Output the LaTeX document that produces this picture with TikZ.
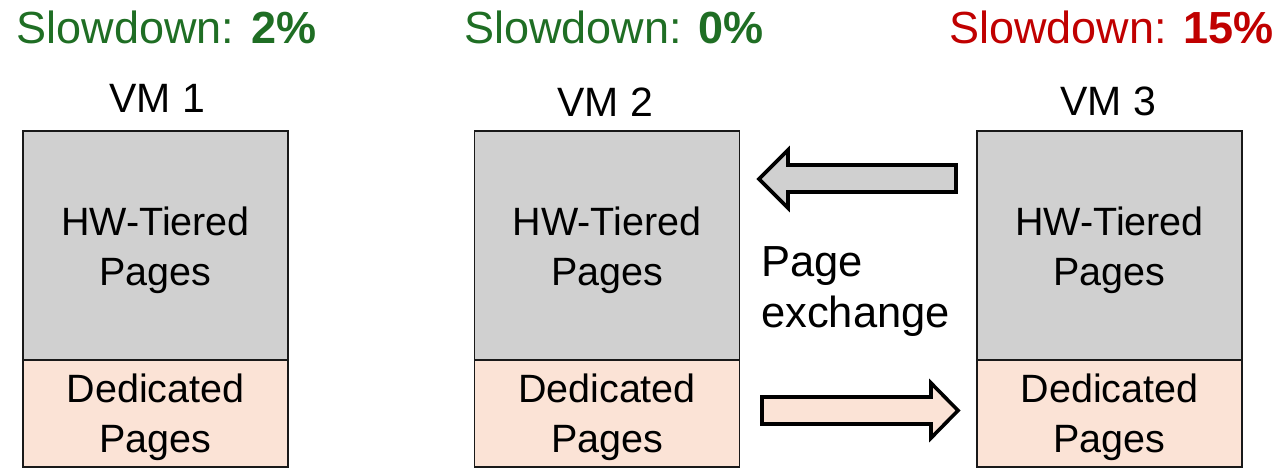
\documentclass[tikz,border=0pt]{standalone}
\usepackage{fontspec}
\setmainfont{Liberation Sans}
\definecolor{okgreen}{RGB}{31,110,36}
\definecolor{badred}{RGB}{192,0,0}
\definecolor{tiergray}{RGB}{208,208,208}
\definecolor{dedpeach}{RGB}{251,227,214}
\tikzset{
  slow/.style={anchor=base, inner sep=0pt, font=\fontsize{45}{54}\selectfont},
  vmlabel/.style={anchor=base, inner sep=0pt, font=\fontsize{41}{48}\selectfont},
  tierbox/.style={draw=black!90, line width=1.8pt, fill=tiergray, minimum width=265pt,
    minimum height=229pt, inner sep=0pt},
  dedbox/.style={draw=black!90, line width=1.8pt, fill=dedpeach, minimum width=265pt,
    minimum height=107pt, inner sep=0pt},
  boxtext/.style={align=center, inner sep=0pt, font=\fontsize{39.5}{50}\selectfont},
  blockarrow/.style={draw=black, line width=3.6pt, line join=miter, miter limit=10},
  note/.style={anchor=base west, inner sep=0pt, font=\fontsize{43.5}{51}\selectfont}
}
\begin{document}
\begin{tikzpicture}[x=1pt, y=-1pt]
  \useasboundingbox (0,0) rectangle (1281,469);

  % slowdown figures
  \node[slow, text=okgreen] (s1) at (166.5,43) {Slowdown: \textbf{2\%}};
  \node[slow, text=okgreen] (s2) at (614,43) {Slowdown: \textbf{0\%}};
  \node[slow, text=badred] (s3) at (1111.5,43) {Slowdown: \textbf{15\%}};

  % VM names
  \node[vmlabel] (v1) at (157,112) {VM 1};
  \node[vmlabel] (v2) at (605,116) {VM 2};
  \node[vmlabel] (v3) at (1108,115) {VM 3};

  % memory split of each VM
  \node[tierbox] (hw1) at (155.5,245.5) {};
  \node[dedbox]  (dp1) at (155.5,413.5) {};
  \node[tierbox] (hw2) at (607,245.5) {};
  \node[dedbox]  (dp2) at (607,413.5) {};
  \node[tierbox] (hw3) at (1109.5,245.5) {};
  \node[dedbox]  (dp3) at (1109.5,413.5) {};

  \foreach \b in {1,2,3} {
    \node[boxtext] (hwt\b) at ([yshift=-5pt]hw\b.center) {HW-Tiered\\Pages};
    \node[boxtext] (dpt\b) at ([yshift=-4pt]dp\b.center) {Dedicated\\Pages};
  }

  % page exchange between VM 3 and VM 2
  \coordinate (topTip) at (759,179);
  \coordinate (botTip) at (958,410.5);
  \draw[blockarrow, fill=tiergray] (topTip) -- ++(29,-29) -- ++(0,15) -- ++(168,0)
    -- ++(0,27) -- ++(-168,0) -- ++(0,16) -- cycle;
  \draw[blockarrow, fill=dedpeach] (botTip) -- ++(-27,-27.5) -- ++(0,14) -- ++(-169,0)
    -- ++(0,27) -- ++(169,0) -- ++(0,14) -- cycle;

  \node[note] (pg) at (761,276) {Page};
  \node[note] (ex) at (761,327) {exchange};
\end{tikzpicture}
\end{document}
